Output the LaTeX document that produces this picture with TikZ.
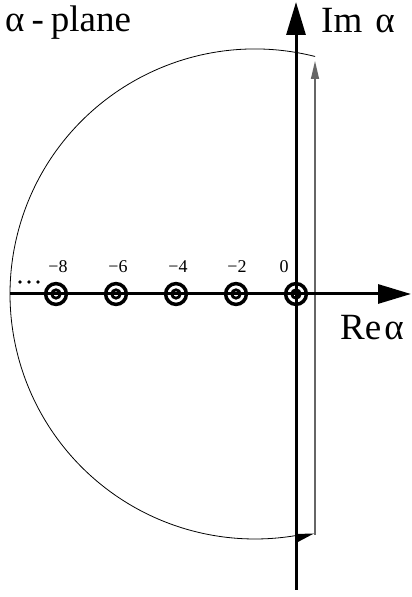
\documentclass[tikz,border=0pt]{standalone}
\usepackage{fontspec}
\setmainfont{Liberation Serif}
\usetikzlibrary{arrows.meta}
\begin{document}
\begin{tikzpicture}[x=1pt,y=1pt,
  axis/.style={line width=3pt,-{Triangle[length=33pt,width=19pt]}},
  contour/.style={line width=1.3pt,draw=black!60,-{Triangle[length=18pt,width=8pt]}},
  bigtext/.style={font=\fontsize{37}{40}\selectfont,inner sep=0pt,anchor=base west},
  num/.style={font=\fontsize{18}{20}\selectfont,inner sep=0pt,anchor=base},
  ring/.style={line width=3.5pt}]
\useasboundingbox (0,0) rectangle (412,597);
% contour arc
\draw[line width=0.8pt] (255,303) ++(75.8:245) arc[start angle=75.8,end angle=279.6,radius=245];
\fill (296,63) -- (296,54) -- (314,63.5) -- cycle;
\coordinate (cb) at (315,62);
\coordinate (ct) at (315,536);
\draw[contour] (cb) -- (ct);
% axes
\coordinate (xl) at (10,303);
\coordinate (xr) at (411,303);
\coordinate (yb) at (296,7);
\coordinate (yt) at (296,595);
\draw[axis] (xl) -- (xr);
\draw[axis] (yb) -- (yt);
% poles
\foreach \x in {56,116,176,236,296}{
  \draw[ring] (\x,303) circle[radius=10.4];
  \draw[line width=2.8pt] (\x,303) circle[radius=4.2];
}
% dots
\foreach \x in {20,29,38} \fill (\x,315) circle[radius=1.8];
% labels
\node[num] (n8) at (58,324) {−8};
\node[num] (n6) at (118,324) {−6};
\node[num] (n4) at (178,324) {−4};
\node[num] (n2) at (237,324) {−2};
\node[num] (n0) at (284,324) {0};
\node[bigtext] (plane) at (5,565) {α\kern7pt-\kern7pt{}plane};
\node[bigtext] (im) at (321,564) {Im\kern13pt{}α};
\node[bigtext] (re) at (340,257) {Re\kern3pt{}α};
\end{tikzpicture}
\end{document}
